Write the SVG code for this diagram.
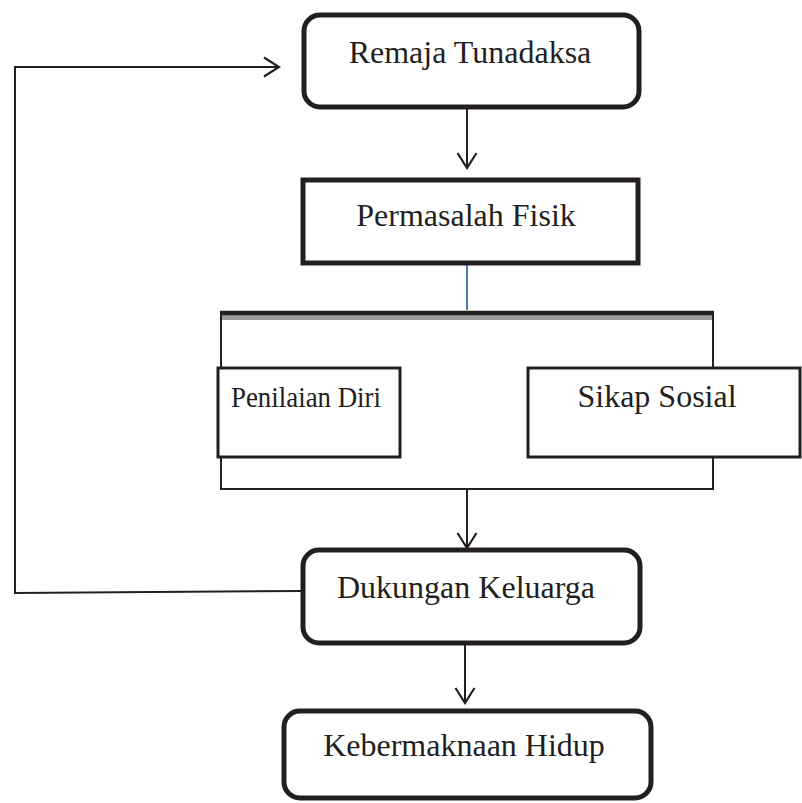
<svg xmlns="http://www.w3.org/2000/svg" width="802" height="803" viewBox="0 0 802 803">
<defs>
<style>
.t{font-family:"Liberation Serif","Times New Roman",serif;font-size:32px;fill:#231f20}
.rb{fill:#fff;stroke:#231f20;stroke-width:5}
.sb{fill:#fff;stroke:#231f20;stroke-width:5}
.nb{fill:#fff;stroke:#231f20;stroke-width:3}
.ln{fill:none;stroke:#231f20;stroke-width:2}
</style>
<marker id="ah" viewBox="0 0 20 22" refX="18" refY="11" markerWidth="20" markerHeight="22" markerUnits="userSpaceOnUse" orient="auto">
<path d="M3,1.5 L18,11 L3,20.5" fill="none" stroke="#231f20" stroke-width="2.2"/>
</marker>
</defs>
<rect width="802" height="803" fill="#fff"/>
<g id="connectors">
<polyline class="ln" points="303,591 15,593 15,67 279,67" marker-end="url(#ah)"/>
<line class="ln" x1="467" y1="107" x2="467" y2="168" marker-end="url(#ah)"/>
<line x1="467" y1="263" x2="467" y2="310" stroke="#4a7ebb" stroke-width="2"/>
<rect x="220" y="315" width="494" height="5" fill="#9d9d9f"/>
<line x1="220" y1="313" x2="714" y2="313" stroke="#231f20" stroke-width="4.5"/>
<line class="ln" x1="221" y1="313" x2="221" y2="368"/>
<line class="ln" x1="713" y1="313" x2="713" y2="368"/>
<polyline class="ln" points="221,457 221,489 713,489 713,457"/>
<line class="ln" x1="467" y1="489" x2="467" y2="548" marker-end="url(#ah)"/>
<line class="ln" x1="465" y1="643" x2="465" y2="703" marker-end="url(#ah)"/>
</g>
<g id="remaja">
<rect class="rb" x="304" y="15" width="335" height="92" rx="16"/>
<text class="t" x="470" y="63" text-anchor="middle">Remaja Tunadaksa</text>
</g>
<g id="permasalah">
<rect class="sb" x="303" y="180" width="335" height="83"/>
<text class="t" x="466" y="226" text-anchor="middle">Permasalah Fisik</text>
</g>
<g id="penilaian">
<rect class="nb" x="218" y="368" width="182" height="89"/>
<text class="t" x="231" y="407" textLength="150" lengthAdjust="spacingAndGlyphs" style="font-size:30px">Penilaian Diri</text>
</g>
<g id="sikap">
<rect class="nb" x="528" y="368" width="272" height="89"/>
<text class="t" x="657" y="407" text-anchor="middle">Sikap Sosial</text>
</g>
<g id="dukungan">
<rect class="rb" x="303" y="550" width="337" height="93" rx="16"/>
<text class="t" x="466" y="598" text-anchor="middle">Dukungan Keluarga</text>
</g>
<g id="kebermaknaan">
<rect class="rb" x="284" y="711" width="367" height="87" rx="16"/>
<text class="t" x="464" y="756" text-anchor="middle">Kebermaknaan Hidup</text>
</g>
</svg>
